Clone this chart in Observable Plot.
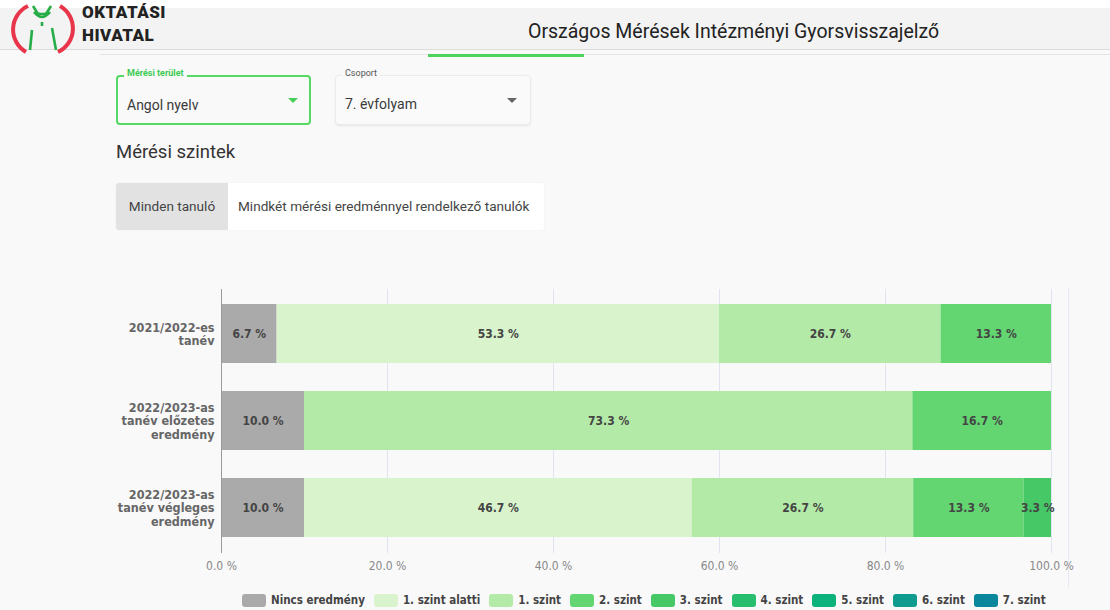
<!DOCTYPE html>
<html><head><meta charset="utf-8">
<script src="https://cdn.jsdelivr.net/npm/d3@7"></script>
<script src="https://cdn.jsdelivr.net/npm/@observablehq/plot@0.6"></script>
<style>
html,body{margin:0;padding:0;}
body{width:1110px;height:610px;background:#f9f9fa;position:relative;overflow:hidden;font-family:Roboto,"Noto Sans",sans-serif;}
.topwhite{position:absolute;left:0;top:0;width:1110px;height:8px;background:#fff;}
.header{position:absolute;left:0;top:8px;width:1110px;height:41px;background:#f3f3f3;border-bottom:1px solid #dcdcdc;}
.logotext{position:absolute;left:82px;top:-7px;font-family:Roboto,sans-serif;font-weight:900;font-size:17px;line-height:23px;color:#222;letter-spacing:0.5px;}
.title{position:absolute;left:528px;top:12px;font-size:19.5px;color:#222;}
.subline{position:absolute;left:100px;top:54px;width:1010px;height:1px;background:#e4e4e4;}
.tabline{position:absolute;left:428px;top:54px;width:156px;height:3px;background:#4fd35f;}
.dd{position:absolute;top:75px;height:50px;border-radius:4px;box-sizing:border-box;}
.dd1{left:116px;width:195px;border:2px solid #56d867;}
.dd2{left:335px;width:196px;border:1px solid #ececec;box-shadow:0 1px 2px rgba(0,0,0,0.08);background:#fafafa;}
.ddlabel{position:absolute;top:-8px;left:6px;padding:0 3px;font-size:9px;background:#f9f9fa;}
.dd1 .ddlabel{color:#3ccb52;font-weight:bold;top:-9px;}
.dd2 .ddlabel{color:#555;}
.ddval{position:absolute;left:9px;top:20px;font-size:14px;color:#3a3a3a;}
.arrow{position:absolute;top:21px;width:0;height:0;border-left:5px solid transparent;border-right:5px solid transparent;}
.dd1 .arrow{left:170px;border-top:5px solid #45cf58;}
.dd2 .arrow{left:171px;border-top:5px solid #666;top:22px;}
.h2{position:absolute;left:116px;top:141px;font-size:18.5px;color:#333;}
.toggle{position:absolute;left:116px;top:183px;width:428px;height:47px;background:#fff;box-shadow:0 0 2px rgba(0,0,0,0.06);border-radius:3px;overflow:hidden;font-size:13.6px;color:#444;}
.t1{position:absolute;left:0;top:0;width:112px;height:47px;background:#e2e2e2;line-height:47px;text-align:center;}
.t2{position:absolute;left:122px;top:0;line-height:47px;}
#chart{position:absolute;left:0;top:270px;}
.frame{position:absolute;left:1068px;top:288px;width:1px;height:300px;background:#e6e9f1;}
#legend{position:absolute;left:242px;top:593px;display:flex;font-family:"DejaVu Sans Condensed","Liberation Sans Narrow","DejaVu Sans",sans-serif;font-stretch:condensed;font-size:11.5px;color:#444;font-weight:600;}
.li{display:flex;align-items:center;margin-right:9px;}
.sw{width:24px;height:13px;border-radius:3px;margin-right:5px;}
</style></head>
<body>
<div class="topwhite"></div>
<div class="header">
  <svg style="position:absolute;left:0;top:-8px" width="80" height="58" viewBox="0 0 80 58">
    <path d="M28 6 A26 26 0 0 0 26 52" fill="none" stroke="#e8354a" stroke-width="4"/>
    <path d="M60 6 A26 26 0 0 1 58 52" fill="none" stroke="#e8354a" stroke-width="4"/>
    <path d="M33 6 L38 14 L46 14 L51 6 M34 12 Q42 22 50 12" fill="none" stroke="#27ad47" stroke-width="2.6"/>
    <circle cx="39" cy="14" r="1.6" fill="#27ad47"/><circle cx="45" cy="14" r="1.6" fill="#27ad47"/>
    <path d="M32 30 L30 50 M52 28 L56 50 M42 22 L42 26" fill="none" stroke="#27ad47" stroke-width="2.6"/>
  </svg>
  <div class="logotext">OKTATÁSI<br>HIVATAL</div>
  <div class="title">Országos Mérések Intézményi Gyorsvisszajelző</div>
</div>
<div class="subline"></div>
<div class="tabline"></div>
<div class="dd dd1"><div class="ddlabel">Mérési terület</div><div class="ddval">Angol nyelv</div><div class="arrow"></div></div>
<div class="dd dd2"><div class="ddlabel">Csoport</div><div class="ddval">7. évfolyam</div><div class="arrow"></div></div>
<div class="h2">Mérési szintek</div>
<div class="toggle"><div class="t1">Minden tanuló</div><div class="t2">Mindkét mérési eredménnyel rendelkező tanulók</div></div>
<div class="frame"></div>
<div id="chart"></div>
<div id="legend"></div>
<script>
const categories = ["2021/2022-es tanév", "2022/2023-as tanév előzetes eredmény", "2022/2023-as tanév végleges eredmény"];
const categoryLabels = ["2021/2022-es\ntanév", "2022/2023-as\ntanév előzetes\neredmény", "2022/2023-as\ntanév végleges\neredmény"];
const levels = ["Nincs eredmény", "1. szint alatti", "1. szint", "2. szint", "3. szint", "4. szint", "5. szint", "6. szint", "7. szint"];
const levelColors = ["#aaaaaa", "#d9f4cc", "#b4eaa8", "#63d571", "#46c867", "#27bf6d", "#0bb27b", "#0f9c8f", "#0b879d"];
const nincs   = [6.7, 10.0, 10.0];
const alatti  = [53.3, 0, 46.7];
const szint1  = [26.7, 73.3, 26.7];
const szint2  = [13.3, 16.7, 13.3];
const szint3  = [0, 0, 3.3];
const szint4  = [0, 0, 0];
const szint5  = [0, 0, 0];
const szint6  = [0, 0, 0];
const szint7  = [0, 0, 0];
const xTicks = [0, 20, 40, 60, 80, 100];

const series = [nincs, alatti, szint1, szint2, szint3, szint4, szint5, szint6, szint7];
const data = [];
categories.forEach((c, i) => levels.forEach((l, j) => data.push({cat: c, level: l, value: series[j][i]})));
const labelOf = Object.fromEntries(categories.map((c, i) => [c, categoryLabels[i]]));

const FONT = '"DejaVu Sans Condensed","Liberation Sans Narrow","DejaVu Sans",sans-serif';
const plot = Plot.plot({
  width: 1110, height: 313,
  marginLeft: 221, marginRight: 59, marginTop: 19, marginBottom: 30,
  style: {background: "transparent", fontFamily: FONT, fontSize: "12px", fontStretch: "condensed"},
  x: {domain: [0, 100], ticks: xTicks, tickFormat: d => d.toFixed(1) + " %", tickSize: 0, tickPadding: 8, label: null, grid: true},
  y: {domain: categories, paddingInner: 0.318, paddingOuter: 0.16, tickFormat: d => labelOf[d], tickSize: 0, tickPadding: 7, label: null},
  color: {domain: levels, range: levelColors},
  marks: [
    Plot.gridX(xTicks, {stroke: "#dfe4ee", strokeOpacity: 1}),
    Plot.barX(data, Plot.stackX({x: "value", y: "cat", fill: "level", order: null})),
    Plot.text(data, Plot.stackX({x: "value", y: "cat", z: "level", order: null, filter: d => d.value > 0, text: d => d.value.toFixed(1) + " %", fill: "#444", fontWeight: "bold", fontSize: 12})),
    Plot.ruleX([0], {stroke: "#9a9a9a", strokeWidth: 1}),
    Plot.axisX({ticks: xTicks, tickFormat: d => d.toFixed(1) + " %", tickSize: 0, tickPadding: 8, fill: "#888", fontSize: 12, label: null}),
    Plot.axisY({tickFormat: d => labelOf[d], tickSize: 0, tickPadding: 7, fill: "#666", fontWeight: "bold", fontSize: 12.5, lineHeight: 1.1, label: null})
  ]
});
document.getElementById("chart").appendChild(plot);

const colorScale = plot.scale("color");
const leg = document.getElementById("legend");
colorScale.domain.forEach((l, i) => {
  const item = document.createElement("div"); item.className = "li";
  const sw = document.createElement("div"); sw.className = "sw"; sw.style.background = colorScale.range[i];
  const tx = document.createElement("span"); tx.textContent = l;
  item.appendChild(sw); item.appendChild(tx); leg.appendChild(item);
});
</script>
</body></html>
